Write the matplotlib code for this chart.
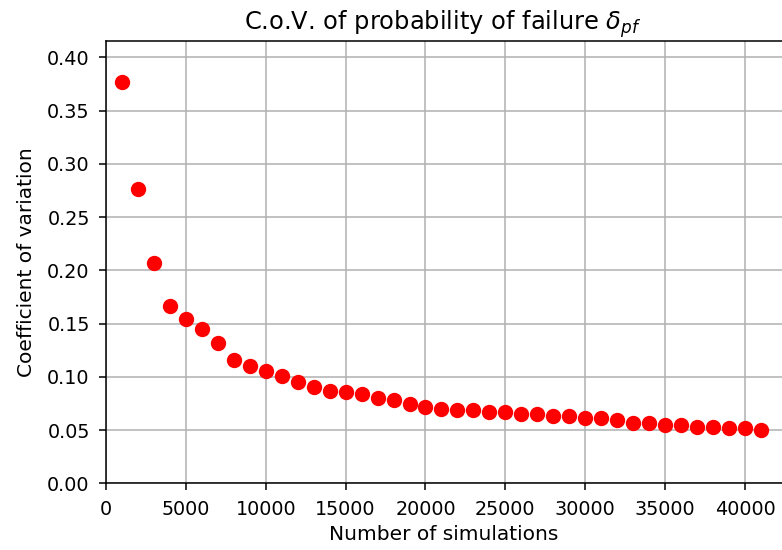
import matplotlib.pyplot as plt

n_sims = list(range(1000, 42000, 1000))
cov = [0.377, 0.276, 0.207, 0.166, 0.154, 0.145, 0.132, 0.116, 0.110, 0.105,
       0.101, 0.095, 0.090, 0.087, 0.086, 0.084, 0.080, 0.078, 0.074, 0.072,
       0.070, 0.069, 0.069, 0.067, 0.067, 0.065, 0.065, 0.063, 0.063, 0.061,
       0.061, 0.059, 0.057, 0.057, 0.055, 0.055, 0.053, 0.053, 0.052, 0.052,
       0.050]

dpi = 138
fig = plt.figure(figsize=(782 / dpi, 550 / dpi), dpi=dpi)
ax = fig.add_axes([0.1355, 0.1213, 0.8785, 0.8042])

ax.plot(n_sims, cov, 'ro', markersize=7)

ax.set_xlim(0, 43000)
ax.set_ylim(0, 0.4153)
ax.set_yticks([0.0, 0.05, 0.10, 0.15, 0.20, 0.25, 0.30, 0.35, 0.40])
ax.yaxis.set_major_formatter(plt.FormatStrFormatter('%.2f'))
ax.tick_params(pad=5)
ax.grid(True)
ax.set_axisbelow(True)

ax.set_xlabel('Number of simulations', fontsize=10.5, labelpad=4)
ax.xaxis.set_label_coords(0.492, -0.095)
ax.set_ylabel('Coefficient of variation', fontsize=10.5, labelpad=6)
ax.set_title(r'C.o.V. of probability of failure $\delta_{pf}$', fontsize=12.6, x=0.49)

fig.savefig('out.png', dpi=dpi)
